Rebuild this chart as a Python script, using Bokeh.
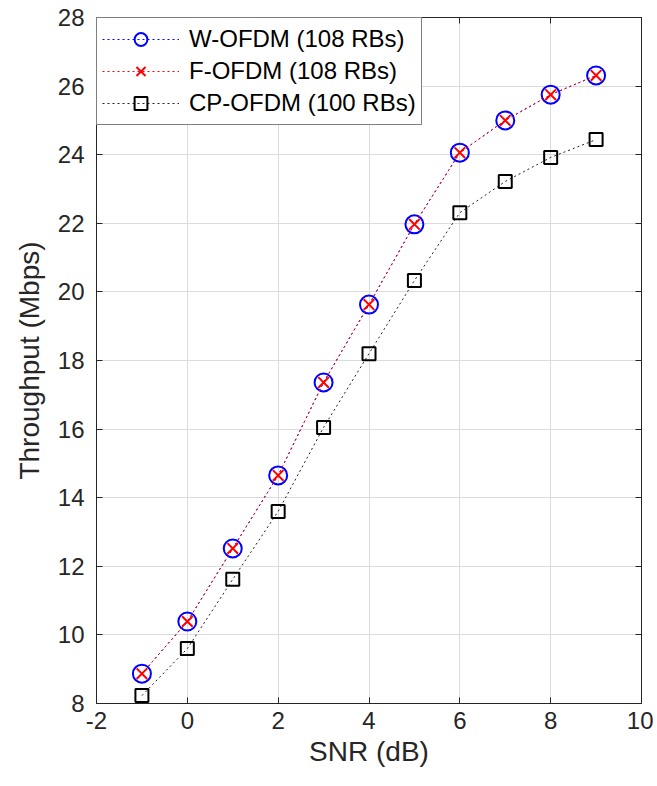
from bokeh.plotting import figure
from bokeh.models import LinearAxis, Range1d, FixedTicker, Legend, LegendItem
from bokeh.embed import file_html
from bokeh.resources import INLINE

snr = [-1, 0, 1, 2, 3, 4, 5, 6, 7, 8, 9]
w_ofdm = [8.87, 10.39, 12.52, 14.65, 17.36, 19.63, 21.97, 24.06, 25.0, 25.75, 26.31]
f_ofdm = [8.87, 10.39, 12.52, 14.65, 17.36, 19.63, 21.97, 24.06, 25.0, 25.75, 26.31]
cp_ofdm = [8.23, 9.6, 11.62, 13.6, 16.05, 18.2, 20.33, 22.31, 23.22, 23.92, 24.44]
labels = ["W-OFDM (108 RBs)", "F-OFDM (108 RBs)", "CP-OFDM (100 RBs)"]
xticks = [-2, 0, 2, 4, 6, 8, 10]
yticks = [8, 10, 12, 14, 16, 18, 20, 22, 24, 26, 28]

FONT = "Liberation Sans"
AX = "#262626"

p = figure(width=653, height=782, output_backend="svg", toolbar_location=None,
           x_range=Range1d(-2, 10), y_range=Range1d(8, 28),
           min_border_left=96, min_border_right=12, min_border_top=17, min_border_bottom=79,
           background_fill_color="white", border_fill_color="white")
p.outline_line_color = AX
p.outline_line_width = 1

for ax in p.xaxis + p.yaxis:
    ax.major_label_text_font = FONT
    ax.major_label_text_font_size = "24px"
    ax.major_label_text_color = AX
    ax.axis_line_color = AX
    ax.major_tick_line_color = AX
    ax.major_tick_in = 6
    ax.major_tick_out = 0
    ax.minor_tick_line_color = None
    ax.axis_label_text_font = FONT
    ax.axis_label_text_font_style = "normal"
    ax.axis_label_text_font_size = "28px"
    ax.axis_label_text_color = AX

p.xaxis.ticker = FixedTicker(ticks=xticks)
p.yaxis.ticker = FixedTicker(ticks=yticks)
p.xaxis.major_label_overrides = {t: str(t) for t in xticks}
p.yaxis.major_label_overrides = {t: str(t) for t in yticks}
p.xaxis.axis_label = "SNR (dB)"
p.yaxis.axis_label = "Throughput (Mbps)"
p.xaxis.major_label_standoff = 8
p.yaxis.major_label_standoff = 12
p.xaxis.axis_label_standoff = 4
p.yaxis.axis_label_standoff = 10

for loc, ticks in (("above", xticks), ("right", yticks)):
    a = LinearAxis(ticker=FixedTicker(ticks=ticks),
                   major_label_overrides={t: "" for t in ticks},
                   axis_line_color=AX, major_tick_line_color=AX, major_tick_in=6,
                   major_tick_out=0, minor_tick_line_color=None,
                   major_label_standoff=0)
    p.add_layout(a, loc)

p.grid.grid_line_color = "#dcdcdc"
p.grid.grid_line_width = 1
p.xgrid.ticker = FixedTicker(ticks=xticks)
p.ygrid.ticker = FixedTicker(ticks=yticks)

dash = "2 3"
l1 = p.line(snr, w_ofdm, line_color="#0000ff", line_width=1, line_dash=dash)
m1 = p.scatter(snr, w_ofdm, marker="circle", size=18, fill_color=None,
               line_color="#0000ff", line_width=2)
l3 = p.line(snr, cp_ofdm, line_color="#222222", line_width=1, line_dash=dash)
m3 = p.scatter(snr, cp_ofdm, marker="square", size=13, fill_color=None,
               line_color="#000000", line_width=2)
l2 = p.line(snr, f_ofdm, line_color="#ff0000", line_width=1, line_dash=dash)
m2 = p.scatter(snr, f_ofdm, marker="x", size=15, line_color="#ff0000", line_width=2)

legend = Legend(items=[LegendItem(label=labels[0], renderers=[l1, m1]),
                       LegendItem(label=labels[1], renderers=[l2, m2]),
                       LegendItem(label=labels[2], renderers=[l3, m3])],
                location="top_left", margin=0, padding=5, spacing=0,
                glyph_width=77, glyph_height=32, label_standoff=10,
                label_text_font=FONT, label_text_font_size="24px",
                label_text_color="#000000", label_height=32,
                border_line_color="#000000", border_line_width=1,
                background_fill_color="white", background_fill_alpha=1)
p.add_layout(legend)

open("out.html", "w").write(file_html(p, INLINE))
